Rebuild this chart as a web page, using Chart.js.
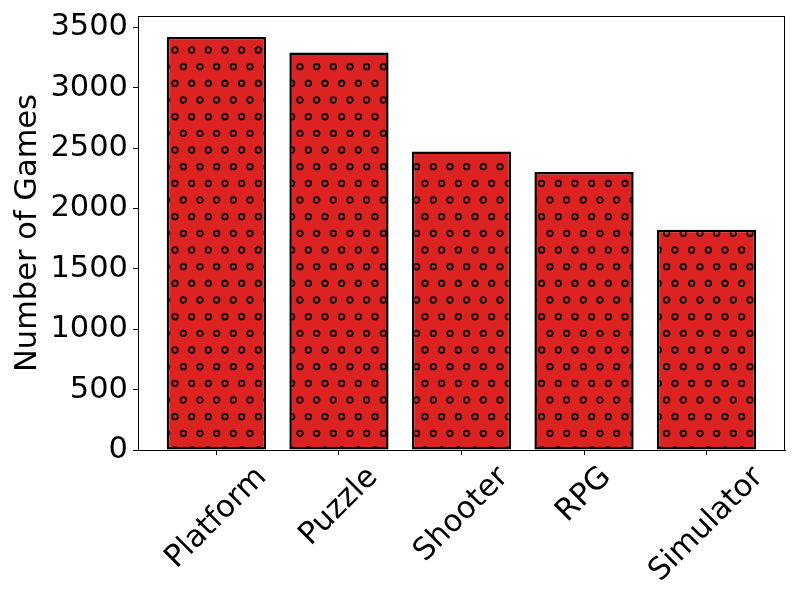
<!DOCTYPE html>
<html>
<head>
<meta charset="utf-8">
<script src="https://cdn.jsdelivr.net/npm/chart.js@4/dist/chart.umd.min.js"></script>
<style>
  html, body { margin: 0; padding: 0; background: #fff; }
  #myChart { display: block; }
</style>
</head>
<body>
<canvas id="myChart" width="800" height="600"></canvas>
<script>
const categories = ["Platform", "Puzzle", "Shooter", "RPG", "Simulator"];
const gameCounts = [3422, 3292, 2472, 2303, 1825];
const yTicks = [0, 500, 1000, 1500, 2000, 2500, 3000, 3500];
const yMax = 3595;

const FONT = "'DejaVu Sans', sans-serif";
const FONT_SIZE = 30.5;

// hatch 'o' pattern, 100px tile like matplotlib at dpi 100
function makeHatch() {
  const c = document.createElement("canvas");
  c.width = 100;
  c.height = 100;
  const ctx = c.getContext("2d");
  ctx.fillStyle = "#dd2222";
  ctx.fillRect(0, 0, 100, 100);
  ctx.strokeStyle = "#000";
  ctx.lineWidth = 1.7;
  const step = 100 / 6;
  for (let row = 0; row <= 6; row++) {
    const off = row % 2 ? step / 2 : 0;
    for (let col = -1; col <= 7; col++) {
      ctx.beginPath();
      ctx.arc(col * step + off, row * step, 2.8, 0, Math.PI * 2);
      ctx.stroke();
    }
  }
  return ctx.createPattern(c, "repeat");
}

// frame + rotated category labels, centred under the ticks
const framePlugin = {
  id: "frame",
  afterDraw(chart) {
    const ctx = chart.ctx;
    const a = chart.chartArea;
    ctx.save();
    ctx.strokeStyle = "#000";
    ctx.lineWidth = 1;
    ctx.strokeRect(Math.round(a.left) + 0.5, Math.round(a.top) + 0.5,
      Math.round(a.right - a.left) - 1, Math.round(a.bottom - a.top));

    const xs = chart.scales.x;
    ctx.font = FONT_SIZE + "px " + FONT;
    ctx.fillStyle = "#000";
    ctx.textAlign = "center";
    ctx.textBaseline = "middle";
    const h = FONT_SIZE * 1.164;
    categories.forEach(function (label, i) {
      const x = xs.getPixelForValue(i);
      const w = ctx.measureText(label).width;
      const top = a.bottom + 10;
      const cy = top + (w + h) * Math.SQRT1_2 / 2;
      ctx.save();
      ctx.translate(x, cy);
      ctx.rotate(-Math.PI / 4);
      ctx.fillText(label, 0, 0);
      ctx.restore();
    });
    ctx.restore();
  }
};

new Chart("myChart", {
  type: "bar",
  data: {
    datasets: [{
      data: gameCounts.map(function (v, i) { return { x: i, y: v }; }),
      backgroundColor: makeHatch(),
      borderColor: "#000",
      borderWidth: 2.5,
      borderSkipped: false,
      barPercentage: 0.81,
      categoryPercentage: 1.0
    }]
  },
  plugins: [framePlugin],
  options: {
    responsive: false,
    animation: false,
    devicePixelRatio: 1,
    layout: { padding: { left: 0, right: 15, top: 16, bottom: 0 } },
    plugins: {
      legend: { display: false },
      tooltip: { enabled: false }
    },
    scales: {
      x: {
        type: "linear",
        offset: false,
        min: -0.64,
        max: 4.64,
        afterBuildTicks: function (scale) {
          scale.ticks = categories.map(function (c, i) { return { value: i }; });
        },
        afterFit: function (scale) {
          scale.height = 150;
          scale.paddingLeft = 0;
          scale.paddingRight = 0;
        },
        ticks: { display: false },
        grid: { offset: false, drawOnChartArea: false, drawTicks: true, tickLength: 5, color: "#000", lineWidth: 1 },
        border: { display: true, color: "#000", width: 1 }
      },
      y: {
        min: 0,
        max: yMax,
        afterBuildTicks: function (scale) {
          scale.ticks = yTicks.map(function (v) { return { value: v }; });
        },
        afterFit: function (scale) {
          scale.width = 138;
          scale.paddingTop = 0;
          scale.paddingBottom = 0;
        },
        ticks: {
          color: "#000",
          padding: 5,
          font: { family: FONT, size: FONT_SIZE },
          callback: function (v) { return String(v); }
        },
        grid: { drawOnChartArea: false, drawTicks: true, tickLength: 5, color: "#000", lineWidth: 1 },
        border: { display: true, color: "#000", width: 1 },
        title: {
          display: true,
          text: "Number of Games",
          color: "#000",
          font: { family: FONT, size: FONT_SIZE },
          padding: { top: 10, bottom: 4 }
        }
      }
    }
  }
});
</script>
</body>
</html>
